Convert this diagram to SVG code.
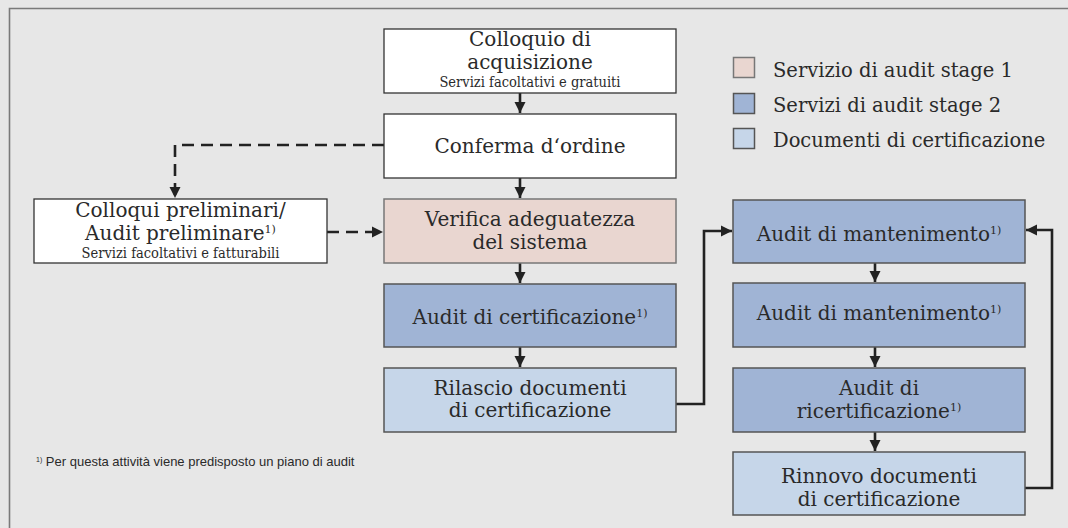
<svg xmlns="http://www.w3.org/2000/svg" width="1068" height="528" viewBox="0 0 1068 528">
<style>
.bg{fill:#e7e7e7}
.frame{fill:none;stroke:#7a7a7a;stroke-width:1.6}
.white{fill:#ffffff;stroke:#333;stroke-width:1.3}
.s1{fill:#e9d6d0;stroke:#777;stroke-width:1.5}
.s2{fill:#a0b4d5;stroke:#555;stroke-width:1.5}
.doc{fill:#c6d6e9;stroke:#555;stroke-width:1.5}
.t{font-family:"DejaVu Serif",serif;font-size:20px;fill:#2a2a2a;text-anchor:middle}
.sm{font-family:"DejaVu Serif",serif;font-stretch:condensed;font-size:14.5px;fill:#2a2a2a;text-anchor:middle}
.lg{font-family:"DejaVu Serif",serif;font-size:19.5px;fill:#2a2a2a}
.sup{font-size:11px}
.fn{font-family:"Liberation Sans",Arial,sans-serif;font-size:13px;fill:#2a2a2a}
.c{fill:none;stroke:#222;stroke-width:2.6}
.d{fill:none;stroke:#222;stroke-width:2.6;stroke-dasharray:12 7}
</style>
<defs>
<marker id="ah" markerUnits="userSpaceOnUse" markerWidth="12" markerHeight="12" viewBox="0 0 12 12" refX="11" refY="6" orient="auto">
<path d="M0,0.5 L11,6 L0,11.5 z" fill="#222"/>
</marker>
</defs>
<rect class="bg" x="0" y="0" width="1068" height="528"/>
<path class="frame" d="M9.5,528 V8.5 H1068"/>

<g id="legend">
<rect class="s1" x="733.5" y="57.5" width="21" height="20"/>
<text class="lg" x="773" y="77">Servizio di audit stage 1</text>
<rect class="s2" x="733.5" y="93.5" width="21" height="20"/>
<text class="lg" x="773" y="112">Servizi di audit stage 2</text>
<rect class="doc" x="733.5" y="128.5" width="21" height="20"/>
<text class="lg" x="773" y="147">Documenti di certificazione</text>
</g>

<g id="connectors">
<path class="c" d="M520,93 V113" marker-end="url(#ah)"/>
<path class="c" d="M520,178 V198" marker-end="url(#ah)"/>
<path class="c" d="M520,263 V283" marker-end="url(#ah)"/>
<path class="c" d="M520,347 V367" marker-end="url(#ah)"/>
<path class="d" d="M384,145 H175 V198" marker-end="url(#ah)"/>
<path class="d" d="M327,232 H383" marker-end="url(#ah)"/>
<path class="c" d="M676,404 H704 V231 H732" marker-end="url(#ah)"/>
<path class="c" d="M875,263 V282" marker-end="url(#ah)"/>
<path class="c" d="M875,347 V367" marker-end="url(#ah)"/>
<path class="c" d="M875,432 V451" marker-end="url(#ah)"/>
<path class="c" d="M1025,488 H1052 V230 H1026" marker-end="url(#ah)"/>
</g>

<g id="n-acquisizione">
<rect class="white" x="384" y="29" width="292" height="64"/>
<text class="t" x="530" y="46">Colloquio di<tspan x="530" dy="23">acquisizione</tspan></text>
<text class="sm" x="530" y="87">Servizi facoltativi e gratuiti</text>
</g>

<g id="n-conferma">
<rect class="white" x="384" y="114" width="292" height="64"/>
<text class="t" x="530" y="153">Conferma d‘ordine</text>
</g>

<g id="n-preliminari">
<rect class="white" x="34" y="199" width="293" height="64"/>
<text class="t" x="180.5" y="217">Colloqui preliminari/<tspan x="180.5" dy="23">Audit preliminare</tspan><tspan class="sup" dy="-7">1)</tspan></text>
<text class="sm" x="180.5" y="258">Servizi facoltativi e fatturabili</text>
</g>

<g id="n-verifica">
<rect class="s1" x="384" y="199" width="292" height="64"/>
<text class="t" x="530" y="226">Verifica adeguatezza<tspan x="530" dy="23">del sistema</tspan></text>
</g>

<g id="n-certificazione">
<rect class="s2" x="384" y="284" width="292" height="63"/>
<text class="t" x="530" y="324">Audit di certificazione<tspan class="sup" dy="-7">1)</tspan></text>
</g>

<g id="n-rilascio">
<rect class="doc" x="384" y="368" width="292" height="64"/>
<text class="t" x="530" y="395">Rilascio documenti<tspan x="530" dy="22">di certificazione</tspan></text>
</g>

<g id="n-mantenimento1">
<rect class="s2" x="733" y="200" width="292" height="63"/>
<text class="t" x="879" y="241">Audit di mantenimento<tspan class="sup" dy="-7">1)</tspan></text>
</g>

<g id="n-mantenimento2">
<rect class="s2" x="733" y="283" width="292" height="64"/>
<text class="t" x="879" y="320">Audit di mantenimento<tspan class="sup" dy="-7">1)</tspan></text>
</g>

<g id="n-ricertificazione">
<rect class="s2" x="733" y="368" width="292" height="64"/>
<text class="t" x="879" y="395">Audit di<tspan x="879" dy="23">ricertificazione</tspan><tspan class="sup" dy="-7">1)</tspan></text>
</g>

<g id="n-rinnovo">
<rect class="doc" x="733" y="452" width="292" height="63"/>
<text class="t" x="879" y="483">Rinnovo documenti<tspan x="879" dy="23">di certificazione</tspan></text>
</g>

<g id="footnote">
<text class="fn" x="36" y="466"><tspan font-size="7" dy="-4">1)</tspan><tspan dy="4"> Per questa attività viene predisposto un piano di audit</tspan></text>
</g>
</svg>
